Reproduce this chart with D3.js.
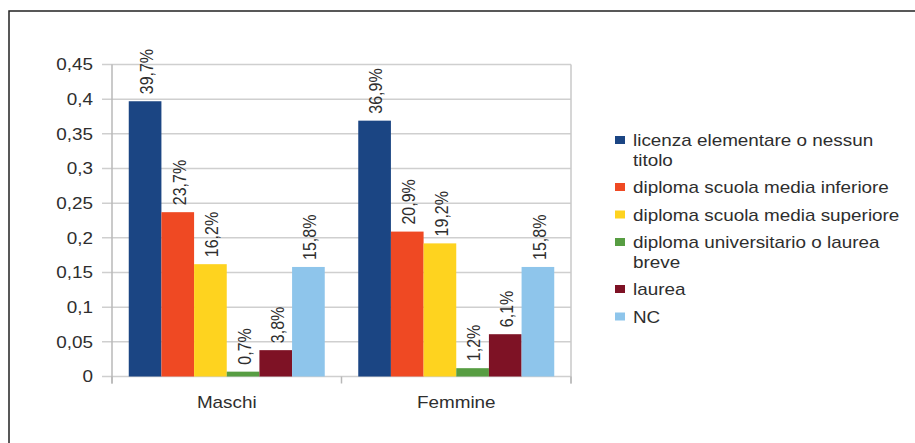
<!DOCTYPE html>
<html>
<head>
<meta charset="utf-8">
<script src="https://cdn.jsdelivr.net/npm/d3@7"></script>
<style>
  html, body { margin: 0; padding: 0; background: #fff; }
  text { font-family: "Liberation Sans", Arial, sans-serif; fill: #2e2e2e; }
</style>
</head>
<body>
<svg id="chart" width="915" height="443"></svg>
<script>
const categories = ["Maschi", "Femmine"];
const seriesNames = [
  "licenza elementare o nessun titolo",
  "diploma scuola media inferiore",
  "diploma scuola media superiore",
  "diploma universitario o laurea breve",
  "laurea",
  "NC"
];
const maschiValues  = [0.397, 0.237, 0.162, 0.007, 0.038, 0.158];
const femmineValues = [0.369, 0.209, 0.192, 0.012, 0.061, 0.158];
const seriesColors = ["#1b4583", "#ef4923", "#fed31f", "#579d42", "#7e1225", "#8ec5eb"];
const yTicks = [0, 0.05, 0.1, 0.15, 0.2, 0.25, 0.3, 0.35, 0.4, 0.45];
const yTickLabels = ["0", "0,05", "0,1", "0,15", "0,2", "0,25", "0,3", "0,35", "0,4", "0,45"];

const valuesByCategory = [maschiValues, femmineValues];
const SX = 1.18; // horizontal text stretch seen in the reference

const svg = d3.select("#chart");

// outer frame
svg.append("rect").attr("x", 9).attr("y", 11).attr("width", 930).attr("height", 450)
  .attr("fill", "none").attr("stroke", "#222").attr("stroke-width", 1.5);

const pLeft = 112, pRight = 571, pTop = 64.5, pBottom = 376.5;
const x0 = d3.scaleBand().domain(categories).range([pLeft, pRight])
  .paddingInner(0.146).paddingOuter(0.073);
const x1 = d3.scaleBand().domain(seriesNames).range([0, x0.bandwidth()]);
const y = d3.scaleLinear().domain([0, 0.45]).range([pBottom, pTop]);

// gridlines + tick marks
const grid = svg.append("g");
yTicks.forEach((t, i) => {
  grid.append("line").attr("x1", 102).attr("x2", pRight)
    .attr("y1", y(t)).attr("y2", y(t))
    .attr("stroke", "#cfcfcf").attr("stroke-width", 1.5);
  grid.append("text")
    .attr("transform", `translate(93,${y(t)}) scale(${SX},1)`)
    .attr("text-anchor", "end").attr("dy", "0.36em")
    .attr("font-size", 16).text(yTickLabels[i]);
});
// axis lines
svg.append("line").attr("x1", pLeft).attr("x2", pLeft).attr("y1", pTop).attr("y2", pBottom + 7)
  .attr("stroke", "#b8b8b8").attr("stroke-width", 1.5);
svg.append("line").attr("x1", pRight).attr("x2", pRight).attr("y1", pTop).attr("y2", pBottom + 7)
  .attr("stroke", "#c8c8c8").attr("stroke-width", 1.5);
const catBounds = [pLeft, (pLeft + pRight) / 2, pRight];
catBounds.forEach(b => {
  svg.append("line").attr("x1", b).attr("x2", b).attr("y1", pBottom).attr("y2", pBottom + 7)
    .attr("stroke", "#b8b8b8").attr("stroke-width", 1.5);
});

// bars
categories.forEach((c, ci) => {
  const g = svg.append("g").attr("transform", `translate(${x0(c)},0)`);
  const vals = valuesByCategory[ci];
  g.selectAll("rect").data(seriesNames).join("rect")
    .attr("x", d => x1(d))
    .attr("y", (d, i) => y(vals[i]))
    .attr("width", x1.bandwidth())
    .attr("height", (d, i) => y(0) - y(vals[i]))
    .attr("fill", (d, i) => seriesColors[i]);
  g.selectAll("text").data(seriesNames).join("text")
    .attr("transform", (d, i) =>
      `translate(${x1(d) + x1.bandwidth() / 2 + 1},${y(vals[i]) - 7}) scale(${SX},1) rotate(-90)`)
    .attr("dy", "0.36em").attr("font-size", 16)
    .text((d, i) => (vals[i] * 100).toFixed(1).replace(".", ",") + "%");
  svg.append("text")
    .attr("transform", `translate(${x0(c) + x0.bandwidth() / 2},${402}) scale(${SX},1)`)
    .attr("text-anchor", "middle").attr("dy", "0.36em").attr("font-size", 16)
    .text(c);
});

// legend
const legend = svg.append("g");
let ly = 140.5;
const maxW = 275 / SX;
seriesNames.forEach((name, i) => {
  legend.append("rect").attr("x", 615).attr("y", ly - 4.5).attr("width", 10).attr("height", 8)
    .attr("fill", seriesColors[i]);
  const words = name.split(" ");
  const lines = [];
  let cur = "";
  const probe = legend.append("text").attr("font-size", 16);
  words.forEach(w => {
    const test = cur ? cur + " " + w : w;
    probe.text(test);
    if (probe.node().getComputedTextLength() > maxW && cur) { lines.push(cur); cur = w; }
    else cur = test;
  });
  lines.push(cur);
  probe.remove();
  lines.forEach((ln, k) => {
    legend.append("text")
      .attr("transform", `translate(633,${ly + k * 19.5}) scale(${SX},1)`)
      .attr("dy", "0.36em").attr("font-size", 16).text(ln);
  });
  ly += (lines.length - 1) * 19.5 + 27.5;
});
</script>
</body>
</html>
